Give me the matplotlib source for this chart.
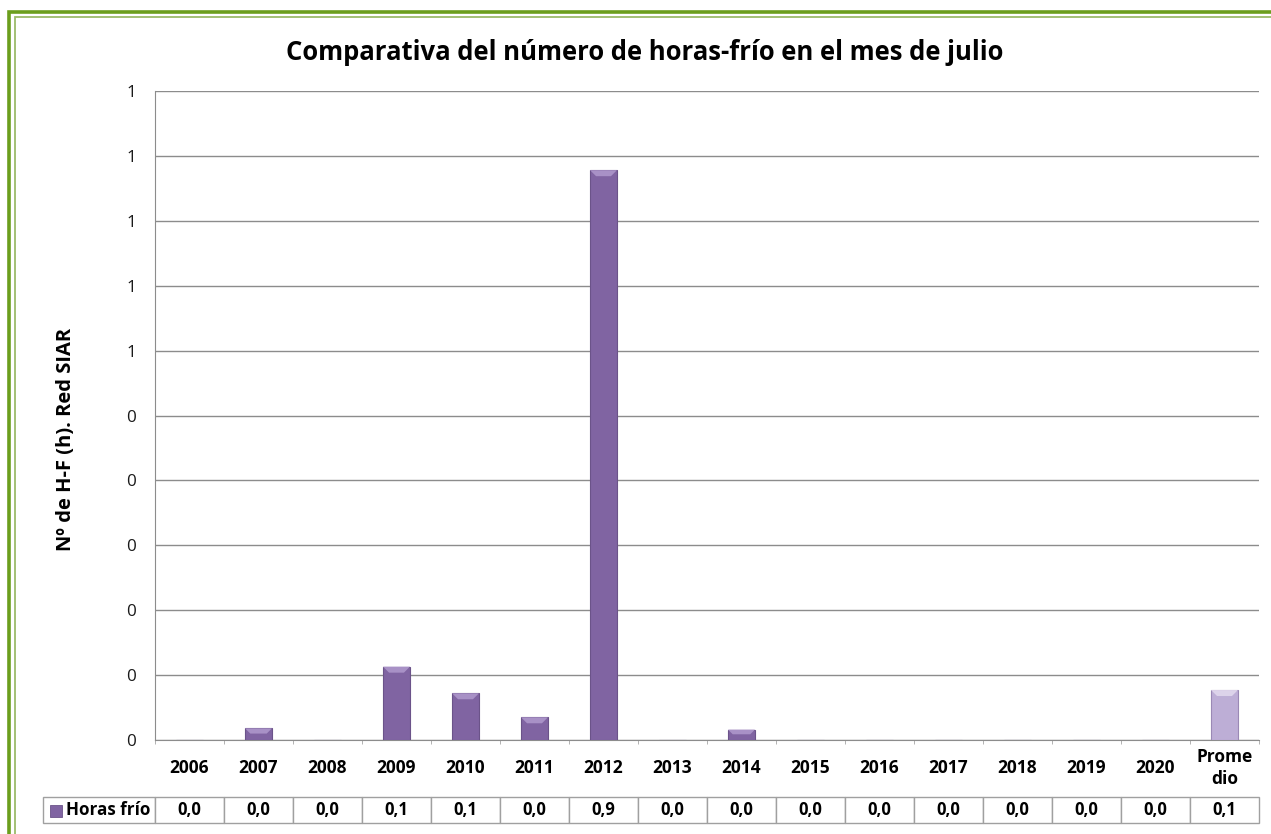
import matplotlib
matplotlib.use("Agg")
import matplotlib.pyplot as plt
from matplotlib.patches import Rectangle, Polygon
import numpy as np

categories = ["2006", "2007", "2008", "2009", "2010", "2011", "2012", "2013",
              "2014", "2015", "2016", "2017", "2018", "2019", "2020", "Prome\ndio"]
values = [0.0, 0.018, 0.0, 0.113, 0.072, 0.035, 0.878, 0.0,
          0.016, 0.0, 0.0, 0.0, 0.0, 0.0, 0.0, 0.077]
series_name = "Horas frío"
title = "Comparativa del número de horas-frío en el mes de julio"
ylabel = "Nº de H-F (h). Red SIAR"
yticks = [0.0, 0.1, 0.2, 0.3, 0.4, 0.5, 0.6, 0.7, 0.8, 0.9, 1.0]

FONT = ["Open Sans", "DejaVu Sans"]
plt.rcParams['font.family'] = FONT

W, H = 1271, 834
fig = plt.figure(figsize=(W / 100, H / 100), dpi=100)
fig.patch.set_facecolor("white")
renderer = fig.canvas.get_renderer()


def fit(txt, target, dim="w"):
    bb = txt.get_window_extent(renderer=renderer)
    cur = bb.width if dim == "w" else bb.height
    txt.set_fontsize(txt.get_fontsize() * target / cur)


# green double frame (extends past right/bottom edge)
fig.patches.append(Rectangle((8.5 / W, -0.1), 1.2, 1 - 11.5 / H + 0.1, transform=fig.transFigure,
                             fill=False, edgecolor="#6B9E1C", linewidth=2.6, zorder=0))
fig.patches.append(Rectangle((14.5 / W, -0.1), 1.2, 1 - 17 / H + 0.1, transform=fig.transFigure,
                             fill=False, edgecolor="#9CBB6A", linewidth=1.3, zorder=0))

L, R, T, B = 155, 1259, 91, 740
ax = fig.add_axes([L / W, 1 - B / H, (R - L) / W, (B - T) / H])
ax.set_facecolor("white")

x = np.arange(len(categories))
bar_w = 0.39
main_c, main_hi, main_edge = "#8064A2", "#A891C6", "#6B5389"
avg_c, avg_hi, avg_edge = "#BDAED6", "#DCD3EA", "#9A89B5"
colors = [main_c] * (len(values) - 1) + [avg_c]
his = [main_hi] * (len(values) - 1) + [avg_hi]
edges = [main_edge] * (len(values) - 1) + [avg_edge]

bars = ax.bar(x, values, width=bar_w, color=colors, edgecolor=edges, linewidth=0.8, zorder=3)

ax.set_xlim(-0.5, len(categories) - 0.5)
ax.set_ylim(0, 1.0)

# bevel highlight on top of each bar
px_x = (len(categories)) / (R - L)
px_y = 1.0 / (B - T)
for b, hi in zip(bars, his):
    h = b.get_height()
    if h <= 0:
        continue
    x0, w = b.get_x(), b.get_width()
    d = min(6 * px_y, h * 0.45)
    dx = d / px_y * px_x
    ax.add_patch(Polygon([(x0, h), (x0 + w, h), (x0 + w - dx, h - d), (x0 + dx, h - d)],
                         closed=True, facecolor=hi, edgecolor="none", zorder=4))

ax.set_yticks(yticks)
ax.set_yticklabels([f"{v:.0f}" for v in yticks])
ax.yaxis.grid(True, color="#8C8C8C", linewidth=1.0, zorder=0)
ax.set_axisbelow(True)
ax.tick_params(axis="y", length=0, pad=13.5, labelsize=12.3, labelcolor="#1a1a1a")

ax.set_xticks(x)
ax.set_xticklabels(categories, fontweight="bold", fontsize=12.5, linespacing=1.3)
for lab in ax.get_xticklabels():
    lab.set_verticalalignment("center")
ax.tick_params(axis="x", length=0, pad=20)
ax.set_xticks(np.arange(len(categories) + 1) - 0.5, minor=True)
ax.tick_params(axis="x", which="minor", length=3, color="#A6A6A6", direction="out")

for s in ["right", "top"]:
    ax.spines[s].set_visible(False)
ax.spines["left"].set_color("#8C8C8C")
ax.spines["bottom"].set_color("#8C8C8C")

t = fig.text(645 / W, 1 - 52 / H, title, ha="center", va="center", fontsize=18, fontweight="bold")
fit(t, 720)
yl = fig.text(66 / W, 1 - 439 / H, ylabel, ha="center", va="center", rotation=90,
              fontsize=13, fontweight="bold")
fit(yl, 222, "h")

# data table below the axis
ax_w = R - L
ax_h = B - T
leg_left, leg_right = 43, L
t_top, t_bot = 797, 823
cell_text = [[""] + [f"{v:.1f}".replace(".", ",") for v in values]]
col_widths = [(leg_right - leg_left) / ax_w] + [1.0 / len(categories)] * len(categories)
tbl = ax.table(cellText=cell_text, colWidths=col_widths, cellLoc="center",
               bbox=[(leg_left - L) / ax_w, (B - t_bot) / ax_h,
                     (R - leg_left) / ax_w, (t_bot - t_top) / ax_h])
tbl.auto_set_font_size(False)
for (r, c), cell in tbl.get_celld().items():
    cell.set_edgecolor("#A0A0A0")
    cell.set_linewidth(1.0)
    cell.get_text().set_fontweight("bold")
    cell.get_text().set_fontsize(12)
# legend marker + series name in the first cell
mk = 12
ax.add_patch(Rectangle(((50 - L) / ax_w, (B - 817) / ax_h), mk / ax_w, mk / ax_h,
                       transform=ax.transAxes, facecolor=main_c, edgecolor=main_edge,
                       linewidth=0.6, clip_on=False, zorder=5))
lt = ax.text((66 - L) / ax_w, (B - (t_top + t_bot) / 2) / ax_h, series_name,
             transform=ax.transAxes, ha="left", va="center", fontsize=12, fontweight="bold")
fit(lt, 84)

fig.savefig("out.png", dpi=100, facecolor="white")
